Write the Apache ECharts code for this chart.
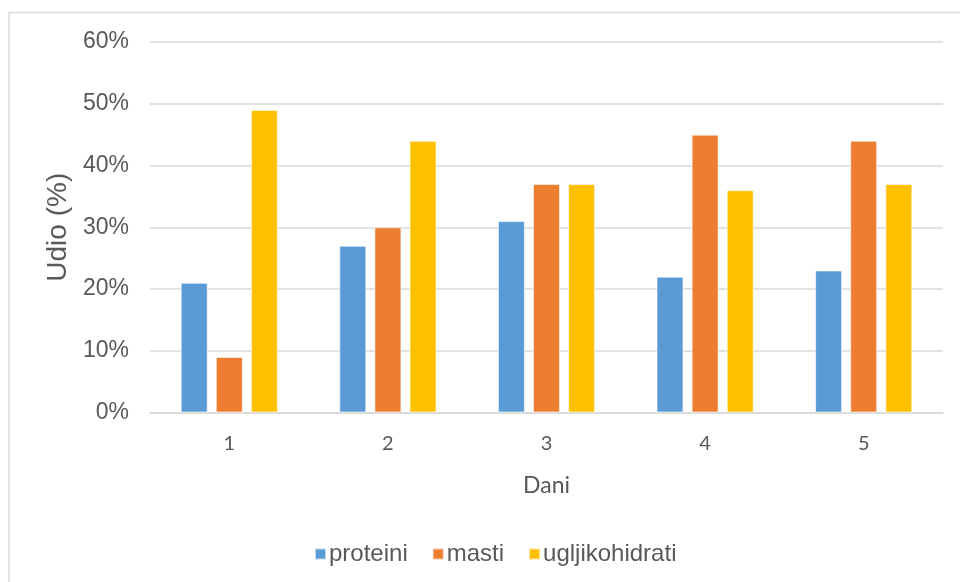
<!DOCTYPE html>
<html>
<head>
<meta charset="utf-8">
<script src="https://cdn.jsdelivr.net/npm/echarts@6/dist/echarts.min.js"></script>
<style>
html,body{margin:0;padding:0;background:#fff;}
#chart{width:960px;height:582px;}
</style>
</head>
<body>
<div id="chart"></div>
<script>
const categories = ['1', '2', '3', '4', '5'];
const proteini = [21, 27, 31, 22, 23];
const masti = [9, 30, 37, 45, 44];
const ugljikohidrati = [49, 44, 37, 36, 37];
const seriesNames = ['proteini', 'masti', 'ugljikohidrati'];
const colors = ['#5B9BD5', '#ED7D31', '#FFC000'];

const chart = echarts.init(document.getElementById('chart'), null, {renderer: 'canvas'});
const barCommon = {
  type: 'bar',
  barWidth: 27,
  barGap: '30%',
  itemStyle: {borderColor: 'rgba(255,255,255,0.6)', borderWidth: 1}
};
chart.setOption({
  animation: false,
  color: colors,
  graphic: [{
    type: 'rect',
    shape: {x: 9, y: 12.5, width: 980, height: 620},
    style: {fill: 'none', stroke: '#D9D9D9', lineWidth: 1.5},
    silent: true
  }],
  grid: {left: 150, right: 17, top: 42, bottom: 169.5},
  legend: {
    data: seriesNames,
    left: 309,
    top: 537,
    itemWidth: 11,
    itemHeight: 11,
    itemGap: 24,
    icon: 'rect',
    textStyle: {fontFamily: 'Liberation Sans, Arial', fontSize: 24, color: '#595959', padding: [0, 0, 0, -2]}
  },
  xAxis: {
    type: 'category',
    data: categories,
    name: 'Dani',
    nameLocation: 'middle',
    nameGap: 62,
    nameTextStyle: {fontFamily: 'Lato, Carlito, sans-serif', fontSize: 23, color: '#595959'},
    axisLine: {lineStyle: {color: '#D9D9D9', width: 1.5}},
    axisTick: {show: false},
    axisLabel: {fontFamily: 'Lato, Carlito, sans-serif', fontSize: 20, color: '#595959', margin: 21}
  },
  yAxis: {
    type: 'value',
    min: 0,
    max: 60,
    interval: 10,
    name: 'Udio (%)',
    nameLocation: 'middle',
    nameGap: 76,
    nameTextStyle: {fontFamily: 'Liberation Sans, Arial', fontSize: 28, color: '#595959'},
    axisLine: {show: false},
    axisTick: {show: false},
    axisLabel: {fontFamily: 'Liberation Sans, Arial', fontSize: 23, color: '#595959', margin: 21, formatter: '{value}%'},
    splitLine: {lineStyle: {color: '#D9D9D9', width: 1.5}}
  },
  series: [
    Object.assign({name: seriesNames[0], data: proteini}, barCommon),
    Object.assign({name: seriesNames[1], data: masti}, barCommon),
    Object.assign({name: seriesNames[2], data: ugljikohidrati}, barCommon)
  ]
});
</script>
</body>
</html>
